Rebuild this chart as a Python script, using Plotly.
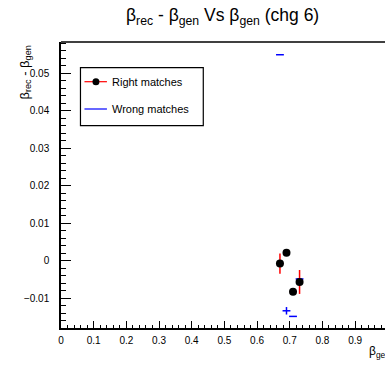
import plotly.graph_objects as go

# ---- data ----
right_x = [0.67, 0.69, 0.71, 0.73]
right_y = [-0.0008, 0.0021, -0.0083, -0.0057]
right_ey = [0.0027, 0.0008, 0.0008, 0.0032]
right_ex = [0.01, 0.01, 0.01, 0.01]

wrong_x = [0.67, 0.69, 0.71, 0.73]
wrong_y = [0.0550, -0.0134, -0.0149, -0.0049]
wrong_ey = [0.0, 0.001, 0.0, 0.0]
wrong_ex = [0.012, 0.012, 0.012, 0.012]

W, H = 385, 366
L, T, B, R = 60.5, 42, 38, 0
pw, ph = W - L - R, H - T - B
XR = [0, 325 / 327.8]
YR = [-0.018, 0.0584]

def px(xp):
    return (xp - L) / pw

def py(yp):
    return (H - B - yp) / ph

FONT = "Liberation Sans, Arial, sans-serif"

fig = go.Figure()
fig.add_trace(go.Scatter(
    x=wrong_x, y=wrong_y, mode="markers",
    marker=dict(size=1, color="rgba(0,0,255,0)"),
    error_x=dict(type="data", array=wrong_ex, color="#0000ff", thickness=1.5, width=0),
    error_y=dict(type="data", array=wrong_ey, color="#0000ff", thickness=1.5, width=0),
    showlegend=False, cliponaxis=False))
fig.add_trace(go.Scatter(
    x=right_x, y=right_y, mode="markers",
    marker=dict(size=8, color="black"),
    error_x=dict(type="data", array=right_ex, color="#ff0000", thickness=1.5, width=0),
    error_y=dict(type="data", array=right_ey, color="#ff0000", thickness=1.5, width=0),
    showlegend=False))

shapes = []
# top frame line
shapes.append(dict(type="line", xref="paper", yref="paper", x0=0, x1=1.1, y0=1, y1=1,
                   line=dict(color="black", width=1.5)))
# legend box
shapes.append(dict(type="rect", xref="paper", yref="paper",
                   x0=px(80), x1=px(203), y0=py(125.7), y1=py(67.7),
                   line=dict(color="black", width=1.2), fillcolor="white", layer="above"))
shapes.append(dict(type="line", xref="paper", yref="paper", x0=px(84), x1=px(106.5),
                   y0=py(81.7), y1=py(81.7), line=dict(color="#ff0000", width=1.2), layer="above"))
shapes.append(dict(type="circle", xref="paper", yref="paper", x0=px(92), x1=px(99),
                   y0=py(85.2), y1=py(78.2), line=dict(color="black", width=0), fillcolor="black", layer="above"))
shapes.append(dict(type="line", xref="paper", yref="paper", x0=px(84), x1=px(106.5),
                   y0=py(109), y1=py(109), line=dict(color="#0000ff", width=1.2), layer="above"))

annotations = [
    dict(text="Right matches", xref="paper", yref="paper", x=px(110), y=py(81.7),
         xanchor="left", yanchor="middle", showarrow=False, font=dict(family=FONT, size=11, color="black")),
    dict(text="Wrong matches", xref="paper", yref="paper", x=px(110), y=py(109),
         xanchor="left", yanchor="middle", showarrow=False, font=dict(family=FONT, size=11, color="black")),
    dict(text="β<sub>rec</sub> - β<sub>gen</sub> Vs β<sub>gen</sub> (chg 6)", xref="paper", yref="paper",
         x=px(222), y=py(17), xanchor="center", yanchor="middle", showarrow=False,
         font=dict(family=FONT, size=17.5, color="black")),
    dict(text="β<sub>rec</sub> - β<sub>gen</sub>", xref="paper", yref="paper",
         x=px(24), y=py(44), xanchor="center", yanchor="top", textangle=-90, showarrow=False,
         font=dict(family=FONT, size=13, color="black")),
    dict(text="β<sub>gen</sub>", xref="paper", yref="paper",
         x=px(367), y=py(352), xanchor="left", yanchor="middle", showarrow=False,
         font=dict(family=FONT, size=12, color="black")),
]

fig.update_layout(
    width=W, height=H, margin=dict(l=L, r=R, t=T, b=B, pad=0),
    paper_bgcolor="white", plot_bgcolor="white",
    shapes=shapes, annotations=annotations, showlegend=False,
    xaxis=dict(range=XR, showgrid=False, zeroline=False, showline=True, linecolor="black", linewidth=1.5,
               mirror=False, ticks="inside", ticklen=7, tickwidth=1, tickcolor="black",
               dtick=0.1, tick0=0, tickformat="~g",
               minor=dict(ticks="inside", ticklen=3.5, dtick=0.02, tick0=0, tickcolor="black", showgrid=False),
               tickfont=dict(family=FONT, size=10, color="black"), ticklabelstandoff=2),
    yaxis=dict(range=YR, showgrid=False, zeroline=False, showline=True, linecolor="black", linewidth=1.5,
               mirror=False, ticks="inside", ticklen=10, tickwidth=1, tickcolor="black",
               dtick=0.01, tick0=0, tickformat="~g",
               minor=dict(ticks="inside", ticklen=5, dtick=0.002, tick0=0, tickcolor="black", showgrid=False),
               tickfont=dict(family=FONT, size=10, color="black"), ticklabelstandoff=8),
)
fig.write_html("out.html")
